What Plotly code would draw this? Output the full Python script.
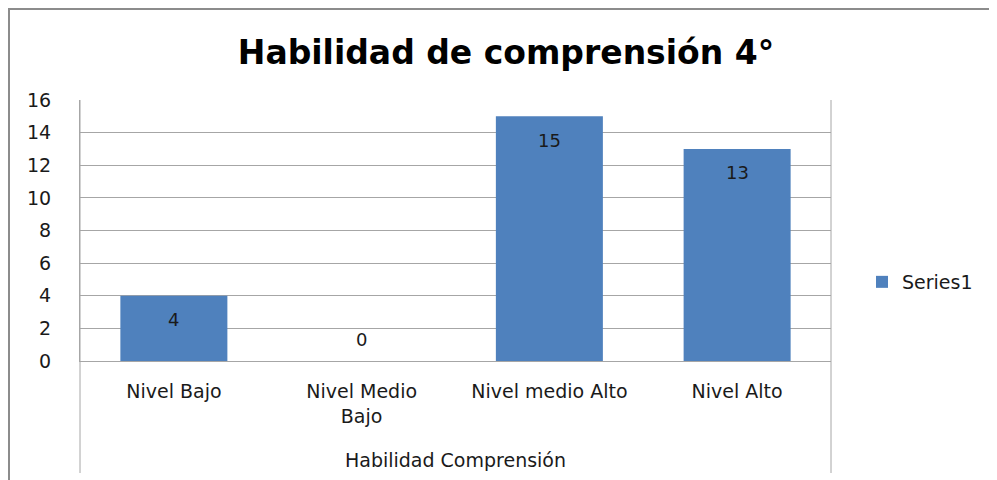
import plotly.graph_objects as go

categories = ["Nivel Bajo", "Nivel Medio<br>Bajo", "Nivel medio Alto", "Nivel Alto"]
values = [4, 0, 15, 13]
series_name = "Series1"
y_ticks = [0, 2, 4, 6, 8, 10, 12, 14, 16]

OFF = 8  # browser body margin
W, H = 997 - OFF, 480 - OFF
# plot area in page pixels: x 80..831, y 100..361
L = 80 - OFF
T = 100 - OFF
R = W - (831 - OFF)
B = H - (361 - OFF)
pw = W - L - R
ph = H - T - B
FONT = "DejaVu Sans"
GRID = "#A6A6A6"
TXT = "#1a1a1a"
FS = 19

def px(xp):
    return (xp - 80) / pw

def py(yp):
    return (361 - yp) / ph

fig = go.Figure()
fig.add_trace(go.Bar(
    x=categories, y=values, name=series_name,
    marker=dict(color="#4F81BD", line=dict(width=0)),
    showlegend=True,
))

for c, v in zip(categories, values):
    fig.add_annotation(
        x=c, y=v, text=str(v), showarrow=False,
        yshift=(-24 if v > 0 else 22), yanchor="middle",
        font=dict(family=FONT, size=18, color=TXT),
    )

fig.update_layout(
    width=W, height=H,
    margin=dict(l=L, r=R, t=T, b=B, pad=0),
    paper_bgcolor="white", plot_bgcolor="white",
    bargap=0.43,
    title=dict(text="<b>Habilidad de comprensión 4°</b>", x=(506 - OFF) / W, xanchor="center",
               y=1 - (52 - OFF) / H, yanchor="middle",
               font=dict(family=FONT, size=33, color="#000000")),
    legend=dict(x=px(862), xanchor="left", y=py(282),
                yanchor="middle", font=dict(family=FONT, size=FS, color=TXT),
                bgcolor="rgba(0,0,0,0)", itemwidth=30),
    font=dict(family=FONT, size=FS, color=TXT),
    showlegend=True,
)

fig.update_yaxes(
    range=[0, 16], tickvals=y_ticks, showgrid=True, gridcolor=GRID, gridwidth=1,
    zeroline=False, showline=True, linecolor=GRID, linewidth=1,
    ticks="", ticklabelstandoff=24,
    tickfont=dict(family=FONT, size=FS, color=TXT),
    fixedrange=True,
)
fig.update_xaxes(
    showline=True, linecolor=GRID, linewidth=1, ticks="",
    tickfont=dict(family=FONT, size=FS, color=TXT),
    ticklabelstandoff=13,
    title=dict(text="Habilidad Comprensión", font=dict(family=FONT, size=FS, color=TXT),
               standoff=28),
)

# Plot-area frame extending below the axis
fig.add_shape(type="line", xref="paper", yref="paper", x0=0, x1=0, y0=1, y1=py(473),
              line=dict(color=GRID, width=1))
fig.add_shape(type="line", xref="paper", yref="paper", x0=1, x1=1, y0=1, y1=py(473),
              line=dict(color=GRID, width=1))
# Outer chart frame (top and left edges)
fig.add_shape(type="line", xref="paper", yref="paper",
              x0=px(OFF), x1=px(997), y0=py(OFF + 1), y1=py(OFF + 1),
              line=dict(color="#8C8C8C", width=2))
fig.add_shape(type="line", xref="paper", yref="paper",
              x0=px(OFF + 1), x1=px(OFF + 1), y0=py(OFF), y1=py(480),
              line=dict(color="#8C8C8C", width=2))

fig.write_html("out.html")
